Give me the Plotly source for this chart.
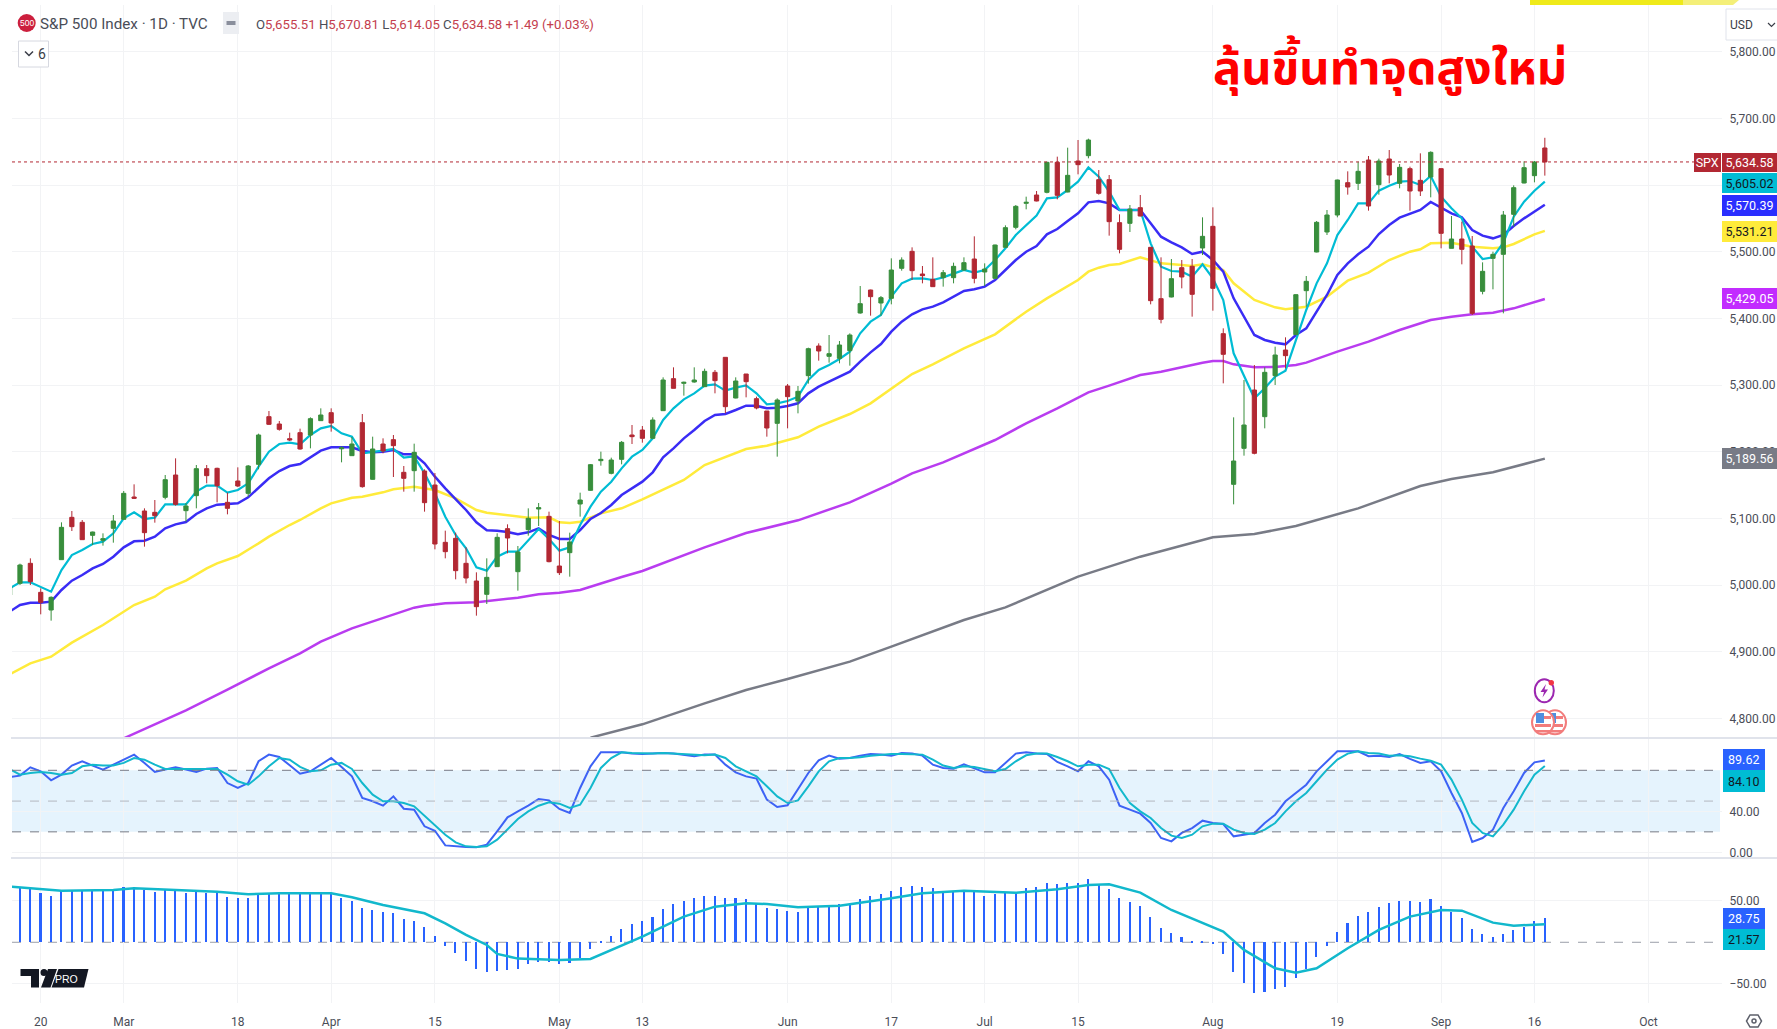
import plotly.graph_objects as go

W, H = 1777, 1029
FN = "Roboto, Arial, sans-serif"

# ---------- data (bar index 0 = 20 Feb, bars run from -3 to 145) ----------
tick_idx = [0, 8, 19, 28, 38, 50, 58, 72, 82, 91, 100, 113, 125, 135, 144, 155]
tick_txt = ["20", "Mar", "18", "Apr", "15", "May", "13", "Jun", "17", "Jul", "15", "Aug", "19", "Sep", "16", "Oct"]

opens = [4985, 5002.5, 5032.5,
 4989, 4962.5, 5038, 5101.5, 5094, 5074.5, 5067, 5085,
 5098.5, 5132, 5111, 5109, 5131.5, 5165, 5111.5, 5134, 5174.5, 5175, 5124, 5156, 5137.5, 5181, 5252.5, 5241.5, 5219.5, 5228.5, 5225, 5246.5,
 5258.5, 5204.3, 5194, 5243.5, 5158.5, 5211.5, 5218, 5169, 5171.5, 5171, 5150, 5064, 5070, 5032.5, 5006, 4986, 5027.5, 5084.5, 5020, 5083, 5114, 5103,
 5028.5, 5048.5, 5121.5, 5142, 5186.5, 5167.5, 5188.5, 5225, 5232.5, 5220, 5261.5, 5309.5, 5302.5, 5304.5, 5297.5, 5319, 5341.5, 5280.5, 5316.5, 5279.5, 5261, 5242.5,
 5298.5, 5276, 5314, 5358.5, 5343, 5340, 5351.5, 5408, 5442.5, 5423, 5430, 5475, 5500.5, 5466.5, 5458.5, 5461, 5461, 5472.5, 5489,
 5469.5, 5460, 5506.5, 5536.5, 5572.5, 5585, 5589, 5634, 5589.5, 5636, 5644, 5608, 5608, 5543.5, 5542.5, 5566, 5506.5, 5429.5, 5432, 5476, 5478, 5505.5,
 5538, 5377, 5151, 5205, 5292.5, 5252.5, 5314, 5352.5, 5375.5, 5441.5, 5499.5, 5529.5, 5555, 5603.5, 5602.5, 5637.5, 5600.5, 5639, 5602.5, 5624.5, 5607, 5612,
 5624.5, 5505, 5519, 5508.5, 5440.5, 5490, 5496, 5556, 5603, 5614, 5655.51]
highs = [5000, 5032, 5040,
 4995, 4983, 5094, 5111, 5097.5, 5080, 5077.5, 5105,
 5141, 5151, 5115, 5127.5, 5165, 5190, 5123, 5180, 5180, 5176, 5138.5, 5176.5, 5180, 5227, 5261, 5246, 5228.5, 5234.5, 5251.5, 5265,
 5265, 5208, 5222, 5256.5, 5222.5, 5220, 5225, 5178.5, 5212, 5173.5, 5168, 5081.5, 5078.5, 5056.5, 5019, 5040, 5077.5, 5091, 5058.5, 5115, 5123, 5110,
 5096, 5078.5, 5138.5, 5181.5, 5200, 5191, 5216, 5240, 5238.5, 5251.5, 5311.5, 5326.5, 5305, 5326.5, 5324.5, 5322.5, 5341.5, 5311.5, 5316.5, 5282.5, 5261, 5280,
 5301.5, 5298.5, 5356, 5362.5, 5375, 5366, 5377.5, 5448.5, 5443, 5433.5, 5490, 5491.5, 5506.5, 5478.5, 5491.5, 5472.5, 5483.5, 5491.5, 5523,
 5482.5, 5510.5, 5539.5, 5570, 5582.5, 5591, 5635, 5642.5, 5656, 5667.5, 5669.5, 5622.5, 5615, 5556, 5570, 5585, 5507, 5491.5, 5489, 5487.5, 5489, 5551.5,
 5566.5, 5385, 5251.5, 5307.5, 5330, 5326.5, 5357.5, 5371.5, 5436, 5463.5, 5546, 5562.5, 5608, 5620.5, 5635, 5643.5, 5639.5, 5652.5, 5631.5, 5627.5, 5647.5, 5650.5,
 5625, 5553.5, 5545, 5523.5, 5484, 5500, 5561, 5599.5, 5635.5, 5636, 5670.81]
lows = [4975, 5000, 5000,
 4956, 4946.5, 5038, 5081, 5068, 5060, 5059, 5063.5,
 5098.5, 5129, 5057.5, 5093.5, 5128.5, 5119, 5095, 5115, 5152.5, 5124, 5106, 5147, 5132.5, 5173.5, 5240, 5231.5, 5216, 5203, 5205, 5246,
 5230, 5184, 5194, 5146, 5158, 5197.5, 5162, 5140, 5140, 5110, 5053.5, 5040, 5008.5, 5002.5, 4954, 4971.5, 5027, 5047.5, 4991.5, 5074, 5088.5, 5034,
 5015, 5012.5, 5102.5, 5141.5, 5179, 5166, 5181, 5211.5, 5213.5, 5220, 5261, 5295, 5284, 5303.5, 5297, 5287.5, 5257.5, 5280, 5281.5, 5263.5, 5222.5, 5192.5,
 5235, 5257.5, 5302, 5336.5, 5333.5, 5332.5, 5329, 5407, 5404, 5404, 5421, 5471.5, 5457.5, 5452.5, 5447, 5447.5, 5452.5, 5471.5, 5452.5,
 5448.5, 5459.5, 5506, 5533.5, 5563.5, 5575.5, 5587.5, 5578.5, 5589, 5616, 5640, 5585.5, 5524, 5497.5, 5529.5, 5553, 5421, 5392.5, 5431.5, 5445, 5402.5, 5495,
 5411.5, 5302.5, 5121, 5194, 5196, 5235, 5300, 5325, 5375, 5417.5, 5499, 5525, 5551.5, 5585.5, 5592.5, 5561.5, 5585.5, 5602.5, 5595, 5561.5, 5583.5, 5581.5,
 5505, 5505, 5481, 5405, 5436, 5443.5, 5407.5, 5537.5, 5602.5, 5604, 5614.05]
closes = [4998, 5030, 5005,
 4974, 4981.5, 5086.5, 5087.5, 5068, 5079.5, 5069.5, 5096,
 5137.5, 5130, 5078.5, 5104, 5158, 5121, 5118.5, 5174.5, 5164, 5149, 5115, 5148.5, 5178.5, 5225, 5241, 5233.5, 5217.5, 5204, 5249.5, 5255,
 5243, 5205.8, 5211.5, 5147.5, 5204, 5201, 5209, 5160, 5199, 5123.5, 5061.5, 5050, 5021.5, 5010.5, 4967.5, 5011.5, 5071.5, 5070.5, 5049.5, 5100, 5116, 5035,
 5018.5, 5064.5, 5127.5, 5180.5, 5188.5, 5187.5, 5214, 5222.5, 5220, 5247.5, 5307.5, 5295, 5304, 5307.5, 5320.5, 5306.5, 5267.5, 5306, 5305, 5265.5, 5235.5, 5277.5,
 5282.5, 5290.5, 5354.5, 5351, 5347, 5360, 5375, 5422, 5432.5, 5431, 5472.5, 5487.5, 5471.5, 5464, 5447.5, 5468.5, 5478, 5483.5, 5460,
 5474, 5510, 5536, 5568, 5574, 5576, 5634, 5584.5, 5614.5, 5630.5, 5667.5, 5587.5, 5545, 5503.5, 5564, 5553.5, 5426.5, 5398.5, 5459.5, 5462, 5436, 5523,
 5445, 5346, 5186, 5240, 5197.5, 5319, 5345, 5344, 5435.5, 5455.5, 5544, 5555, 5607.5, 5597, 5620.5, 5568.5, 5636, 5615, 5626.5, 5591, 5591, 5649,
 5527.5, 5519, 5503.5, 5407.5, 5470.5, 5496, 5555, 5596, 5626, 5634.5, 5634.58]

ma_cyan = [4995, 5004, 5004, 4996.5, 4990, 5022.5, 5045, 5052.5, 5061.5, 5065, 5077.5,
 5100, 5109, 5099, 5101, 5121, 5121.5, 5121, 5140, 5149, 5149, 5138.5, 5142.5, 5152.5, 5177.5, 5200, 5211.5, 5213.5, 5211, 5225, 5235,
 5238.5, 5227.5, 5222.5, 5197.5, 5199, 5201.5, 5204, 5191, 5193, 5167.5, 5137.5, 5102.5, 5075, 5055, 5026.5, 5021.5, 5042.5, 5050, 5050, 5067.5, 5084, 5069,
 5051.5, 5056.5, 5090, 5117.5, 5140, 5155, 5175, 5192.5, 5202.5, 5220, 5247.5, 5265, 5278.5, 5287.5, 5299, 5301, 5291.5, 5296, 5299.5, 5287.5, 5271, 5272.5,
 5276, 5282.5, 5307.5, 5322.5, 5330, 5339, 5350, 5377.5, 5395, 5405, 5432.5, 5452.5, 5459.5, 5460, 5457.5, 5461.5, 5466.5, 5472.5, 5468.5,
 5472.5, 5487.5, 5505, 5525, 5540, 5554, 5580, 5581.5, 5592.5, 5605, 5626.5, 5612.5, 5590, 5562.5, 5562.5, 5562.5, 5512.5, 5477.5, 5471, 5470, 5462.5, 5481,
 5460, 5427.5, 5347.5, 5312.5, 5280, 5295, 5312.5, 5321.5, 5367.5, 5412.5, 5452.5, 5482.5, 5525, 5547.5, 5572.5, 5572.5, 5591.5, 5599, 5605, 5606, 5600, 5613.5,
 5582.5, 5565, 5550, 5507.5, 5489, 5491.5, 5513.5, 5552.5, 5575, 5591.5, 5605.02]
ma_blue = [4960, 4970, 4973.5, 4973.5, 4975, 4992.5, 5006.5, 5015, 5025, 5031.5, 5042.5,
 5056.5, 5065.5, 5066.5, 5072.5, 5085, 5091, 5094.5, 5106.5, 5115, 5120.5, 5121, 5122.5, 5131.5, 5146.5, 5160, 5171, 5178.5, 5181.5, 5191.5, 5201.5,
 5206.5, 5206.5, 5206.5, 5201, 5199, 5200, 5202.5, 5196, 5196, 5182.5, 5162.5, 5145, 5128.5, 5112.5, 5094, 5082, 5081.5, 5079.5, 5076, 5079, 5085, 5075,
 5069, 5069, 5082.5, 5099, 5108, 5120, 5135, 5145, 5155, 5169, 5191.5, 5205, 5220, 5232.5, 5246, 5255, 5256.5, 5262.5, 5269, 5269, 5265, 5266,
 5268.5, 5272.5, 5287.5, 5297.5, 5305, 5312.5, 5320, 5335, 5349, 5361.5, 5380, 5395, 5406, 5413.5, 5417.5, 5424, 5432.5, 5441, 5443.5,
 5447.5, 5457.5, 5472.5, 5487.5, 5500, 5508.5, 5526, 5534, 5546, 5557.5, 5574, 5576, 5572.5, 5562.5, 5562.5, 5562.5, 5542.5, 5522.5, 5514, 5506.5, 5496.5, 5500,
 5487.5, 5470, 5430, 5402.5, 5375, 5367.5, 5363.5, 5361, 5375, 5385, 5410, 5435, 5465, 5482.5, 5496, 5507.5, 5526.5, 5540, 5551, 5556.5, 5562.5, 5574.5,
 5566.5, 5557.5, 5551.5, 5532.5, 5524, 5520, 5525, 5538.5, 5550, 5560, 5570.39]

yellow_idx = [-3, -1, 1, 3, 6, 9, 11, 12, 14, 16, 17, 19, 21, 22, 24, 25, 27, 28, 30, 31, 33, 34, 36, 38, 40, 42, 43, 45, 47, 49, 50, 51, 52, 54, 56,
 58, 62, 64, 66, 68, 70, 73, 75, 78, 80, 82, 84, 86, 89, 92, 95, 97, 100, 101, 102, 103, 104, 106, 107, 108, 110, 111,
 112, 114, 115, 117, 119, 120, 122, 124, 126, 128, 130, 132, 133, 134, 136, 138, 140, 141, 142, 144, 145]
ma_yellow = [4866, 4882.5, 4892.5, 4913.5, 4940, 4970, 4982.5, 4993.5, 5006.5, 5025, 5032.5, 5043.5, 5062.5, 5072.5, 5090, 5097.5, 5115, 5122.5, 5131, 5132.5, 5139, 5143.5, 5147.5, 5142.5, 5130, 5112.5, 5108.5, 5105, 5101, 5101.5, 5094, 5093, 5095, 5107.5, 5115,
 5128.5, 5157.5, 5180, 5191.5, 5204, 5209, 5221.5, 5237.5, 5256.5, 5272.5, 5295, 5316.5, 5331, 5355, 5376, 5410, 5430, 5457.5, 5470, 5476, 5480, 5481.5, 5491.5, 5487.5, 5482.5, 5480, 5478.5,
 5481, 5472.5, 5452.5, 5427.5, 5416.5, 5413.5, 5417.5, 5432.5, 5456.5, 5468.5, 5487.5, 5500, 5503.5, 5512.5, 5513.5, 5507.5, 5505, 5506.5, 5511.5, 5526, 5531.21]

purple_idx = [8, 14, 18, 22, 25, 27, 30, 31, 34, 36, 37, 39, 42, 44, 46, 48, 50, 52, 53, 56, 58, 60, 64, 68,
 73, 78, 82, 84, 87, 92, 95, 98, 101, 103, 106, 108, 110, 112, 113, 114, 115, 117, 119, 121, 122, 125, 128, 131, 134, 136, 138, 140, 142, 145]
ma_purple = [4770, 4812, 4843, 4875, 4897.5, 4915, 4935, 4940, 4955, 4966, 4969, 4972.5, 4974, 4977.5, 4981, 4986, 4988.5, 4992.5, 4997.5, 5012, 5021, 5033, 5056.5, 5078,
 5097, 5124, 5152, 5167.5, 5184, 5217.5, 5242.5, 5265, 5289, 5299, 5315, 5320, 5327, 5333.5, 5336, 5336, 5331, 5326.5, 5327, 5330, 5333.5, 5350, 5365, 5382.5, 5397.5, 5402.5, 5406, 5408.5, 5415, 5429.05]

gray_idx = [53, 58, 64, 68, 72, 78, 82, 89, 93, 100, 106, 113, 117, 121, 127, 133, 136, 140, 145]
ma_gray = [4771, 4791, 4822.5, 4842.5, 4859, 4885, 4907.5, 4947.5, 4966.5, 5012.5, 5042.5, 5071.5, 5076.5, 5088.5, 5115, 5148.5, 5159, 5169, 5189.56]

stoch_k = [73.5, 74.8, 82.9, 79, 70.2, 75.8, 84.6, 88.8, 84.6, 80.7, 85.5,
 90.4, 95.3, 87.2, 78.4, 80.7, 82.9, 80.7, 78.4, 81.6, 82.3, 67.6, 62.8, 67.6, 88.8, 95.3, 93, 84.9, 76.7, 79, 85.5,
 92, 83.3, 74.1, 53, 49.8, 45.5, 54.6, 42.6, 41.6, 25.4, 21.1, 6.8, 5.9, 5.2, 4.9, 7.5, 20.5, 34.1, 40, 45.5, 52, 50.7,
 42.3, 38.4, 62.8, 83.9, 97.6, 97.6, 97.6, 96.3, 95.9, 96.3, 96.9, 96.3, 95.3, 93.7, 95.3, 95.3, 85.5, 78, 74.1, 71.9, 51.4, 44.2,
 45.9, 61.1, 77.4, 89.8, 94.3, 91.4, 92, 94.3, 95.9, 95.3, 94.3,
 96.9, 96.3, 94.3, 85.5, 82.3, 81.6, 85.9, 82.3, 78, 78, 87.2, 96.3, 97.6, 96.3, 95.9, 88.1, 83.9, 79, 88.8, 83.9, 70.9, 45.5, 41.6, 37.7, 28.6, 14, 10.7, 18.9, 23.7, 30.9,
 28.6, 27.6, 15.6, 17.2, 18.9, 28.6, 36.7, 49.8, 57.9, 66, 79, 88.8, 98.5, 98.5, 98.5, 93.7, 94.3, 93, 95.9, 91.1, 87.2, 88.8,
 79, 57.9, 38.4, 10.1, 14, 22.1, 43.3, 59.5, 77.4, 87.8, 89.62]
stoch_d = [81.3, 75.8, 77.4, 78.4, 77.4, 75.8, 77.4, 83.9, 85.5, 84.6, 84.6,
 87.2, 92, 90.4, 85.5, 81.3, 81.3, 81.3, 80.7, 81.3, 81.3, 75.8, 69.3, 66, 74.1, 83.9, 92, 90.4, 83.3, 79, 80,
 85.5, 87.2, 81.3, 67.6, 56.3, 49.8, 49.8, 48.1, 44.9, 35.8, 27, 17.2, 9.8, 5.9, 5.2, 5.9, 12.4, 22.8, 32.5, 40, 45.5, 48.8,
 47.5, 43.3, 46.5, 62.8, 82.3, 92, 97.6, 96.9, 96.3, 96.3, 96.9, 96.3, 95.9, 94.6, 94.6, 95.3, 92, 83.9, 79, 74.1, 64.4, 54.6,
 48.1, 50.7, 64.4, 79, 88.8, 92, 92, 92.7, 94.3, 95.3,
 95.9, 95.9, 95.9, 95.3, 90.4, 84.6, 82.3, 83.9, 83.3, 81.3, 79, 81.3, 88.8, 94.6, 96.3, 96.3, 93, 88.8, 83.9, 85.5, 85.5, 81.3, 62.8, 48.1, 40, 33.5, 23.7, 16.3, 14, 17.2, 25.4,
 28, 28, 22.1, 18.9, 17.9, 22.1, 28.6, 40, 49.8, 57.9, 69.3, 80.7, 90.4, 96.3, 98.5, 96.9, 96.3, 94.3, 94.6, 93.7, 91.4, 89.4,
 85.5, 70.9, 51.4, 28.6, 18.9, 15.6, 27, 41.6, 59.5, 75.8, 84.1]

# bars run from index -2 to 145
macd_bars = [66, 65.6, 58.8, 56, 61.6, 62.8, 62.8, 62, 62, 62.8,
 66, 66.8, 62.8, 60.8, 62.8, 62, 59.6, 62, 59.6, 58.8, 54.8, 53.2, 52.8, 56.8, 58.8, 60, 60, 58.8, 58.8, 60,
 59.6, 53.6, 50, 41.6, 38.8, 36.8, 34.8, 27.6, 26, 18, 8, -4, -12.4, -22, -32.4, -35.2, -34, -33.2, -32.4, -26.4, -23.2, -23.2,
 -26.4, -25.2, -18.4, -8.4, 2, 8, 15.6, 21.6, 26, 30.8, 39.6, 46, 50, 52.8, 56, 56, 52.8, 52.8, 51.6, 46.8, 41.2, 39.6,
 38, 36.8, 42, 42.8, 43.6, 46, 46.8, 51.6, 56, 57.6, 62, 66.8, 68, 66, 64.8, 61.6, 60.8, 60.8, 60.8, 56,
 58, 60, 60.8, 64.8, 66, 70.8, 70, 70.8, 71.6, 75.6, 70, 63.6, 52.8, 48.8, 44, 30.8, 16.8, 10.8, 6.8, 1.2, 2,
 -2, -14.4, -35.2, -48.4, -60.4, -59.2, -56.4, -53.2, -42.4, -32.4, -17.2, -4.4, 12.8, 22.8, 32, 36.8, 42.8, 46.8, 50, 50, 48.8, 51.6,
 44, 36.8, 28.8, 15.6, 9.6, 6.8, 9.6, 14.8, 18.8, 26, 28.75]

signal_idx = [-3, -1, 2, 7, 9, 13, 17, 20, 23, 28, 30, 33, 37, 39, 41, 43, 44, 46, 50, 53, 55, 58, 62, 65, 68, 70, 73, 77, 82,
 85, 89, 94, 98, 101, 103, 106, 109, 112, 114, 116, 119, 121, 123, 126, 129, 132, 135, 137, 140, 142, 144, 145]
macd_signal = [66.8, 64.8, 62, 62.8, 64.8, 62.8, 60.8, 57.6, 58.8, 58.8, 54, 44.8, 34.8, 22.8, 8.8, -3.2, -14, -19.6, -21.2, -20, -9.2, 6.8, 30.8, 42.8, 46.8, 46, 42, 44, 52.8,
 58.8, 62, 59.6, 63.6, 68.8, 69.6, 59.6, 38.8, 23.6, 12.8, -9.2, -31.2, -36.4, -31.2, -7.2, 14.8, 30.8, 38.8, 38, 23.6, 20, 20.8, 21.57]

price_ticks = [4800, 4900, 5000, 5100, 5200, 5300, 5400, 5500, 5600, 5700, 5800]

for name, a in [("opens", opens), ("highs", highs), ("lows", lows), ("closes", closes), ("cyan", ma_cyan),
                ("blue", ma_blue), ("k", stoch_k), ("d", stoch_d)]:
    if len(a) != 149:
        raise SystemExit(f"{name} has {len(a)} values")
if len(macd_bars) != 148:
    raise SystemExit(f"macd {len(macd_bars)}")
for a, b in [(yellow_idx, ma_yellow), (purple_idx, ma_purple), (gray_idx, ma_gray), (signal_idx, macd_signal)]:
    if len(a) != len(b):
        raise SystemExit(f"{len(a)} vs {len(b)}")

bars_x = list(range(-3, 146))
macd_x = list(range(-2, 146))

# ---------- pixel helpers for layout furniture ----------
PX = lambda p: p / W
PY = lambda p: 1 - p / H
LEFT, RIGHT = 12, 1722
XR = [-2.77, 162.08]

C_GRID = "#f2f3f5"
RED, GREEN = "#b22833", "#388e3c"
CYAN, BLUE, YEL, PUR, GRY = "#00bcd4", "#3a2cf5", "#ffeb3b", "#b93cf0", "#787b86"
TXT = "#4a4d57"

fig = go.Figure()

def line(x, y, color, w, xa="x", ya="y"):
    fig.add_trace(go.Scatter(x=x, y=y, mode="lines", line=dict(color=color, width=w, shape="linear"),
                             xaxis=xa, yaxis=ya, hoverinfo="skip", showlegend=False))

line(gray_idx, ma_gray, GRY, 2.5)
line(purple_idx, ma_purple, PUR, 2.5)
line(yellow_idx, ma_yellow, YEL, 2.5)
line(bars_x, ma_blue, BLUE, 2.5)
line(bars_x, ma_cyan, CYAN, 2.2)

fig.add_trace(go.Candlestick(
    x=bars_x, open=opens, high=highs, low=lows, close=closes, xaxis="x4", yaxis="y4",
    increasing=dict(line=dict(color=GREEN, width=1), fillcolor=GREEN),
    decreasing=dict(line=dict(color=RED, width=1), fillcolor=RED),
    whiskerwidth=0, showlegend=False, hoverinfo="skip"))

line(bars_x, stoch_k, "#3d62f5", 2, "x2", "y2")
line(bars_x, stoch_d, "#12b8cc", 2, "x2", "y2")

fig.add_trace(go.Bar(x=macd_x, y=macd_bars, width=0.15, marker=dict(color="#2962ff", line=dict(width=0)),
                     xaxis="x3", yaxis="y3", hoverinfo="skip", showlegend=False))
line(signal_idx, macd_signal, "#12b8cc", 2.5, "x3", "y3")

# ---------- axes ----------
xdom = [PX(LEFT), PX(RIGHT)]
xbase = dict(domain=xdom, range=XR, tickmode="array", tickvals=tick_idx, showgrid=True, gridcolor=C_GRID, gridwidth=1,
             zeroline=False, showline=False, rangeslider=dict(visible=False), automargin=False)
ybase = dict(side="right", showgrid=True, gridcolor=C_GRID, gridwidth=1, zeroline=False, showline=False,
             tickfont=dict(family=FN, size=12, color=TXT), ticks="outside", ticklen=4, tickcolor="rgba(0,0,0,0)",
             tickmode="array", automargin=False)

layout = dict(
    width=W, height=H, autosize=False, margin=dict(l=0, r=0, t=0, b=0),
    paper_bgcolor="white", plot_bgcolor="white", showlegend=False, bargap=0, boxgap=0.42,
    xaxis=dict(**xbase, anchor="y", showticklabels=False),
    xaxis2=dict(**xbase, anchor="y2", showticklabels=False),
    xaxis3=dict(**xbase, anchor="y3", ticktext=tick_txt, ticks="outside", ticklen=8, tickcolor="rgba(0,0,0,0)",
                tickfont=dict(family=FN, size=12, color=TXT)),
    xaxis4=dict(domain=xdom, range=XR, anchor="y4", overlaying="x", visible=False, rangeslider=dict(visible=False), automargin=False),
    yaxis=dict(**ybase, domain=[PY(738), PY(5)], range=[4770.5, 5870], tickvals=price_ticks,
               ticktext=[f"{v:,.2f}" for v in price_ticks], anchor="x"),
    yaxis2=dict(**ybase, domain=[PY(858), PY(738)], range=[-5.5, 111.5], tickvals=[0, 40], ticktext=["0.00", "40.00"], anchor="x2"),
    yaxis3=dict(**ybase, domain=[PY(1003), PY(858)], range=[-72.9, 101.2], tickvals=[-50, 50], ticktext=["\u221250.00", "50.00"], anchor="x3"),
    yaxis4=dict(domain=[PY(738), PY(5)], range=[4770.5, 5870], anchor="x4", overlaying="y", visible=False, automargin=False),
)

# ---------- shapes ----------
shapes = []
def sh(**k):
    shapes.append(k)

def poly(points, fill, lw=0, lc=None):
    d = "M " + " L ".join(f"{PX(a):.5f} {PY(b):.5f}" for a, b in points) + " Z"
    sh(type="path", path=d, xref="paper", yref="paper", fillcolor=fill,
       line=dict(width=lw, color=lc or fill), layer="above")

def oval(cx, cy, rx, ry, fill, lc=None, lw=0):
    sh(type="circle", xref="paper", yref="paper", x0=PX(cx - rx), x1=PX(cx + rx), y0=PY(cy + ry), y1=PY(cy - ry),
       fillcolor=fill, line=dict(color=lc or fill, width=lw), layer="above")

def rect(x0, y0, x1, y1, fill):
    sh(type="rect", xref="paper", yref="paper", x0=PX(x0), x1=PX(x1), y0=PY(y1), y1=PY(y0), fillcolor=fill,
       line=dict(width=0), layer="above")

# stochastic band and guides
sh(type="rect", xref="paper", yref="y2", x0=PX(LEFT), x1=PX(1720), y0=20, y1=80, fillcolor="#e5f3fd", line=dict(width=0), layer="below")
for lv, col in [(80, "#787b86"), (50, "#b4b7bf"), (20, "#787b86")]:
    sh(type="line", xref="paper", yref="y2", x0=PX(LEFT), x1=PX(1720), y0=lv, y1=lv, line=dict(color=col, width=1, dash="dash"), layer="above")
sh(type="line", xref="paper", yref="y3", x0=PX(LEFT), x1=PX(1720), y0=0, y1=0, line=dict(color="#9a9ea8", width=1, dash="dash"), layer="below")
# last price
sh(type="line", xref="paper", yref="y", x0=PX(LEFT), x1=PX(1694), y0=5634.58, y1=5634.58, line=dict(color=RED, width=1, dash="dot"), layer="above")
# pane separators
for py in (738, 858):
    sh(type="line", xref="paper", yref="paper", x0=PX(11), x1=1, y0=PY(py), y1=PY(py), line=dict(color="#e0e3eb", width=2), layer="above")

# promo strip at top
poly([(1530, 0), (1683, 0), (1683, 5), (1530, 5)], "#efea1a")
poly([(1683, 0), (1739, 0), (1733, 5), (1683, 5)], "#f4ef78")
# header icon + pill + button
oval(26.7, 23, 9, 9, "#cc1f3d")
sh(type="rect", xref="paper", yref="paper", x0=PX(223), x1=PX(239), y0=PY(34), y1=PY(12), fillcolor="#eceef2",
   line=dict(width=0), layer="above")
rect(226.5, 21, 235.5, 25, "#8a8f9c")
sh(type="rect", xref="paper", yref="paper", x0=PX(18.5), x1=PX(48.5), y0=PY(67), y1=PY(41), fillcolor="white",
   line=dict(color="#d6d8e0", width=1), layer="above")
sh(type="path", xref="paper", yref="paper", path=f"M {PX(25):.5f} {PY(51.5):.5f} L {PX(29):.5f} {PY(55.5):.5f} L {PX(33):.5f} {PY(51.5):.5f}",
   line=dict(color="#3a3d47", width=1.5), layer="above")
# currency button
sh(type="rect", xref="paper", yref="paper", x0=PX(1726), x1=PX(1790), y0=PY(40), y1=PY(9), fillcolor="white",
   line=dict(color="#e0e3eb", width=1), layer="above")
sh(type="path", xref="paper", yref="paper", path=f"M {PX(1768):.5f} {PY(23):.5f} L {PX(1771.5):.5f} {PY(26.5):.5f} L {PX(1775):.5f} {PY(23):.5f}",
   line=dict(color="#3a3d47", width=1.2), layer="above")
# TradingView mark
DK = "#131722"
poly([(20.5, 969), (39, 969), (39, 987.5), (31, 987.5), (31, 976), (20.5, 976)], DK)
oval(44, 972.5, 3.5, 3.5, DK)
poly([(48, 969), (57, 969), (50.5, 987.5), (41, 987.5)], DK)
poly([(58.5, 969), (88.5, 969), (84, 987.5), (51.5, 987.5)], DK)
# event marks
oval(1544.3, 690.7, 9.5, 11.5, "white", "#9c27b0", 2)
poly([(1546, 684), (1540.5, 692), (1544, 692), (1542.5, 697.5), (1548, 689.5), (1544.5, 689.5)], "#9c27b0")
oval(1551.3, 682.7, 2.7, 2.7, "#f23645")
for cx in (1555, 1543):
    oval(cx, 722.3, 11, 12, "white", "#f27c7c", 2)
    rect(cx - 8, 724, cx + 8, 727, "#f27c7c")
    rect(cx - 7, 730, cx + 7, 732.5, "#f27c7c")
    rect(cx - 7, 713, cx + 1, 723, "#4f8fe0")
    rect(cx + 1, 716, cx + 8, 719, "#f27c7c")
# settings glyph
poly([(1750, 1015), (1758, 1015), (1761.5, 1021), (1758, 1027), (1750, 1027), (1746.5, 1021)], "white", 1.5, "#5d606b")
oval(1754, 1021, 2, 2, "white", "#5d606b", 1.5)
layout["shapes"] = shapes

# ---------- annotations ----------
ann = []
def text(x, y, s, size=14, color=TXT, anchor="left", family=FN):
    ann.append(dict(xref="paper", yref="paper", x=PX(x), y=PY(y), text=s, showarrow=False, xanchor=anchor, yanchor="middle",
                    font=dict(family=family, size=size, color=color), borderpad=0))

def tag(s, x0, x1, y0, y1, bg, fg):
    ann.append(dict(xref="paper", yref="paper", x=PX(x0), y=PY(y0), width=x1 - x0, height=y1 - y0, text=s, showarrow=False,
                    xanchor="left", yanchor="top", align="center", valign="middle", bgcolor=bg, borderpad=0, borderwidth=0,
                    font=dict(family=FN, size=12.5, color=fg)))

tag("SPX", 1694, 1720.5, 153, 172, RED, "white")
tag("5,634.58", 1722, 1777, 153, 172, RED, "white")
tag("5,605.02", 1722, 1777, 173, 193, CYAN, "#131722")
tag("5,570.39", 1722, 1777, 195, 216, "#2a2eff", "white")
tag("5,531.21", 1722, 1777, 221, 242, YEL, "#131722")
tag("5,429.05", 1722, 1777, 288, 309, "#c22cff", "white")
tag("5,189.56", 1722, 1777, 448, 469, GRY, "white")
tag("89.62", 1722.5, 1764, 749, 770, "#2962ff", "white")
tag("84.10", 1722.5, 1764, 770, 792, CYAN, "#131722")
tag("28.75", 1722.5, 1764, 908, 929, "#2962ff", "white")
tag("21.57", 1722.5, 1764, 929, 950, CYAN, "#131722")

text(26.7, 23.5, "500", 8.5, "white", "center", "Liberation Sans, Arial, sans-serif")
text(39, 24, "S&amp;P 500 Index \u00b7 1D \u00b7 TVC", 15.2, "#4a4d57")
R = "#c4404e"
def v(lbl, val):
    return f'<span style="color:#4a4d57">{lbl}</span><span style="color:{R}">{val}</span>'
text(255, 24, v("O", "5,655.51") + " " + v("H", "5,670.81") + " " + v("L", "5,614.05") + " " + v("C", "5,634.58")
     + f' <span style="color:{R}">+1.49 (+0.03%)</span>', 13.2)
text(37, 54, "6", 14, "#3a3d47")
text(1729, 24.5, "USD", 12, "#3a3d47")
text(54, 978.5, "PRO", 10.5, "white", "left", "Liberation Sans, Arial, sans-serif")
text(1390, 70, "<b>\u0e25\u0e38\u0e49\u0e19\u0e02\u0e36\u0e49\u0e19\u0e17\u0e33\u0e08\u0e38\u0e14\u0e2a\u0e39\u0e07\u0e43\u0e2b\u0e21\u0e48</b>", 47, "#ff0000", "center",
     "Noto Sans Thai, Noto Sans Thai Looped, Loma, Garuda, Tahoma, Noto Sans, sans-serif")
layout["annotations"] = ann

fig.update_layout(**layout)
fig.write_html("out.html", config=dict(displayModeBar=False),
               post_script="document.body.style.margin='0';document.body.style.overflow='hidden';")
